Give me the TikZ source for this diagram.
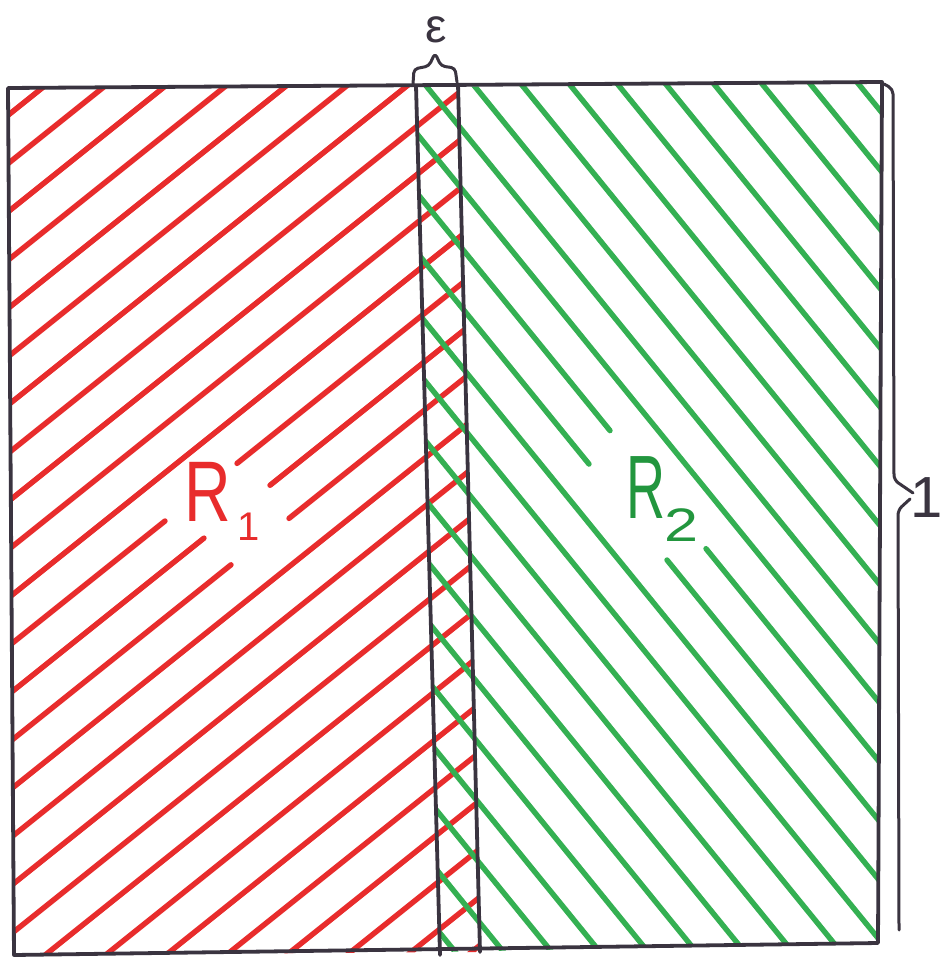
\documentclass[tikz,border=0pt]{standalone}
\usepackage{fontspec}
\newfontfamily\labelfont{Liberation Sans}
\definecolor{penred}{RGB}{232,44,44}
\definecolor{pengreen}{RGB}{52,176,82}
\definecolor{labelgreen}{RGB}{34,150,62}
\definecolor{ink}{RGB}{58,52,64}
\begin{document}
\begin{tikzpicture}[x=1pt,y=-1pt,
  inkline/.style={draw=ink, line width=3.8pt, line cap=round, line join=round},
  redhatch/.style={draw=penred, line width=5.4pt, line cap=round},
  greenhatch/.style={draw=pengreen, line width=5.4pt, line cap=round},
  lbl/.style={inner sep=0pt, font=\labelfont}]
\useasboundingbox[fill=white] (0,0) rectangle (943,965);

% red hatching (left region and strip)
\begin{scope}
  \clip (8,88) -- (458,85) -- (480,952) -- (14,955) -- cycle;
  \foreach \k in {-1,0,1,2,3,4,5,6,7,8,9,13,14,15,16,17,18,19,20,21,22,23,24} {
    \pgfmathsetmacro\c{170+48.3*\k}
    \draw[redhatch] (0,\c) -- (520,{\c-416});
  }
  \foreach \k/\a/\b in {10/165/237,11/204/270,12/231/289} {
    \pgfmathsetmacro\c{170+48.3*\k}
    \draw[redhatch] (0,\c) -- (\a,{\c-0.8*\a});
    \draw[redhatch] (\b,{\c-0.8*\b}) -- (520,{\c-416});
  }
\end{scope}

% green hatching (strip and right region)
\begin{scope}
  \clip (416,87) -- (882,82) -- (878,943) -- (440,952) -- cycle;
  \foreach \j in {0,1,2,3,4,5,6,7,8,9,10,13,14,15,16,17,18,19,20,21,22,23} {
    \pgfmathsetmacro\d{-972+59.3*\j}
    \draw[greenhatch] (400,{\d+492}) -- (900,{\d+1107});
  }
  \foreach \j/\a/\b in {11/610/706,12/589/667} {
    \pgfmathsetmacro\d{-972+59.3*\j}
    \draw[greenhatch] (400,{\d+492}) -- (\a,{\d+1.23*\a});
    \draw[greenhatch] (\b,{\d+1.23*\b}) -- (900,{\d+1107});
  }
\end{scope}

% outline of the square and the strip
\coordinate (tl) at (8,88);
\coordinate (tr) at (882,82);
\coordinate (br) at (878,943);
\coordinate (bl) at (14,955);
\draw[inkline] (tl) -- (tr) -- (br) -- (bl) -- cycle;
\coordinate (sl1) at (416,86);
\coordinate (sl2) at (440,955);
\coordinate (sr1) at (458,84);
\coordinate (sr2) at (480,952);
\draw[inkline] (sl1) -- (sl2);
\draw[inkline] (sr1) -- (sr2);

% brace over the strip
\draw[inkline, line width=3pt, rounded corners=4pt] (413,84) -- (414,69) -- (429,66) -- (435,53) -- (441,66) -- (455,68) -- (457,82);
\node[lbl, text=ink, font=\labelfont\fontsize{48}{48}\selectfont] (eps) at (436,30) {ε};

% brace on the right
\draw[inkline, line width=3pt, rounded corners=5pt] (884,84) -- (893,89) -- (894,480) -- (913,493);
\draw[inkline, line width=3pt, rounded corners=5pt] (910,499) -- (898,510) -- (899,930);
\node[lbl, text=ink, font=\labelfont\fontsize{58}{58}\selectfont] (one) at (927,498) {1};

% region labels
\node[lbl, text=penred, font=\labelfont\fontsize{86}{86}\selectfont] (r1) at (208,492) {\scalebox{0.75}[1]{R}};
\node[lbl, text=penred, font=\labelfont\fontsize{40}{40}\selectfont] (r1sub) at (249,527) {1};
\node[lbl, text=labelgreen, font=\labelfont\fontsize{90}{90}\selectfont] (r2) at (646,488) {\scalebox{0.6}[1]{R}};
\node[lbl, text=labelgreen, font=\labelfont\fontsize{47}{47}\selectfont] (r2sub) at (681,525) {\scalebox{1.3}[1]{2}};
\end{tikzpicture}
\end{document}
